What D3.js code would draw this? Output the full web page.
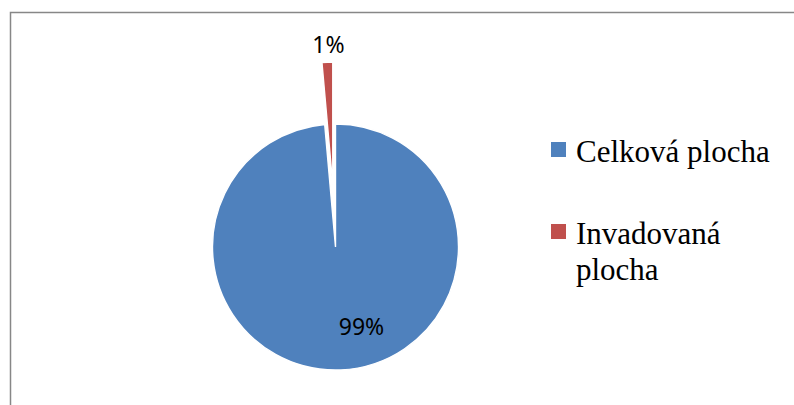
<!DOCTYPE html>
<html>
<head>
<meta charset="utf-8">
<script src="https://cdn.jsdelivr.net/npm/d3@7"></script>
<style>
  html, body { margin: 0; padding: 0; background: #fff; }
  svg { display: block; }
</style>
</head>
<body>
<div id="chart"></div>
<script>
// dimensions
const width = 794;
const height = 405;

// data
const categories = ["Celková plocha", "Invadovaná plocha"];
const values = [98.6, 1.4];
const legendLines = [["Celková plocha"], ["Invadovaná", "plocha"]];
const colors = ["#4F81BD", "#C0504D"];

// layout
const cx = 335.5, cy = 247, radius = 123;
const explode = [0, 62];          // vysunutí výseče
const labelPos = [                 // úhel (stupně) + vzdálenost popisku od středu
  { angle: 162, dist: 84 },
  { angle: -2, dist: 202 }
];

const total = d3.sum(values);

const svg = d3.select("#chart").append("svg")
  .attr("width", width)
  .attr("height", height);

// rámeček grafu
svg.append("rect")
  .attr("x", 10.5).attr("y", 12.5)
  .attr("width", 820).attr("height", 420)
  .attr("fill", "none")
  .attr("stroke", "#878787")
  .attr("stroke-width", 1.5);

const pie = d3.pie().sort(null).value(d => d);
const arcs = pie(values);
const arc = d3.arc().innerRadius(0).outerRadius(radius);

const g = svg.append("g").attr("transform", `translate(${cx},${cy})`);

g.selectAll("path")
  .data(arcs)
  .join("path")
  .attr("transform", (d, i) => {
    const a = (d.startAngle + d.endAngle) / 2;
    return `translate(${Math.sin(a) * explode[i]},${-Math.cos(a) * explode[i]})`;
  })
  .attr("d", arc)
  .attr("fill", (d, i) => colors[i])
  .attr("stroke", "#fff")
  .attr("stroke-width", 1.4);

// popisky hodnot
g.selectAll("text.lbl")
  .data(arcs)
  .join("text")
  .attr("class", "lbl")
  .attr("x", (d, i) => Math.sin(labelPos[i].angle * Math.PI / 180) * labelPos[i].dist)
  .attr("y", (d, i) => -Math.cos(labelPos[i].angle * Math.PI / 180) * labelPos[i].dist)
  .attr("text-anchor", "middle")
  .attr("dy", "0.35em")
  .style("font-family", "'Noto Sans', sans-serif")
  .style("font-size", "23px")
  .style("fill", "#000")
  .text(d => Math.round(d.value / total * 100) + "%");

// legenda
const legendX = 551;
const legendY = [162, 244];
const lineH = 36;

const leg = svg.selectAll("g.legend")
  .data(categories)
  .join("g")
  .attr("class", "legend");

leg.append("rect")
  .attr("x", legendX)
  .attr("y", (d, i) => legendY[i] - 20)
  .attr("width", 15)
  .attr("height", 15)
  .attr("fill", (d, i) => colors[i]);

leg.append("text")
  .attr("x", legendX + 25)
  .attr("y", (d, i) => legendY[i])
  .style("font-family", "'Liberation Serif', 'Times New Roman', serif")
  .style("font-size", "31px")
  .style("fill", "#000")
  .selectAll("tspan")
  .data((d, i) => legendLines[i])
  .join("tspan")
  .attr("x", legendX + 25)
  .attr("dy", (d, j) => j === 0 ? 0 : lineH)
  .text(d => d);
</script>
</body>
</html>
